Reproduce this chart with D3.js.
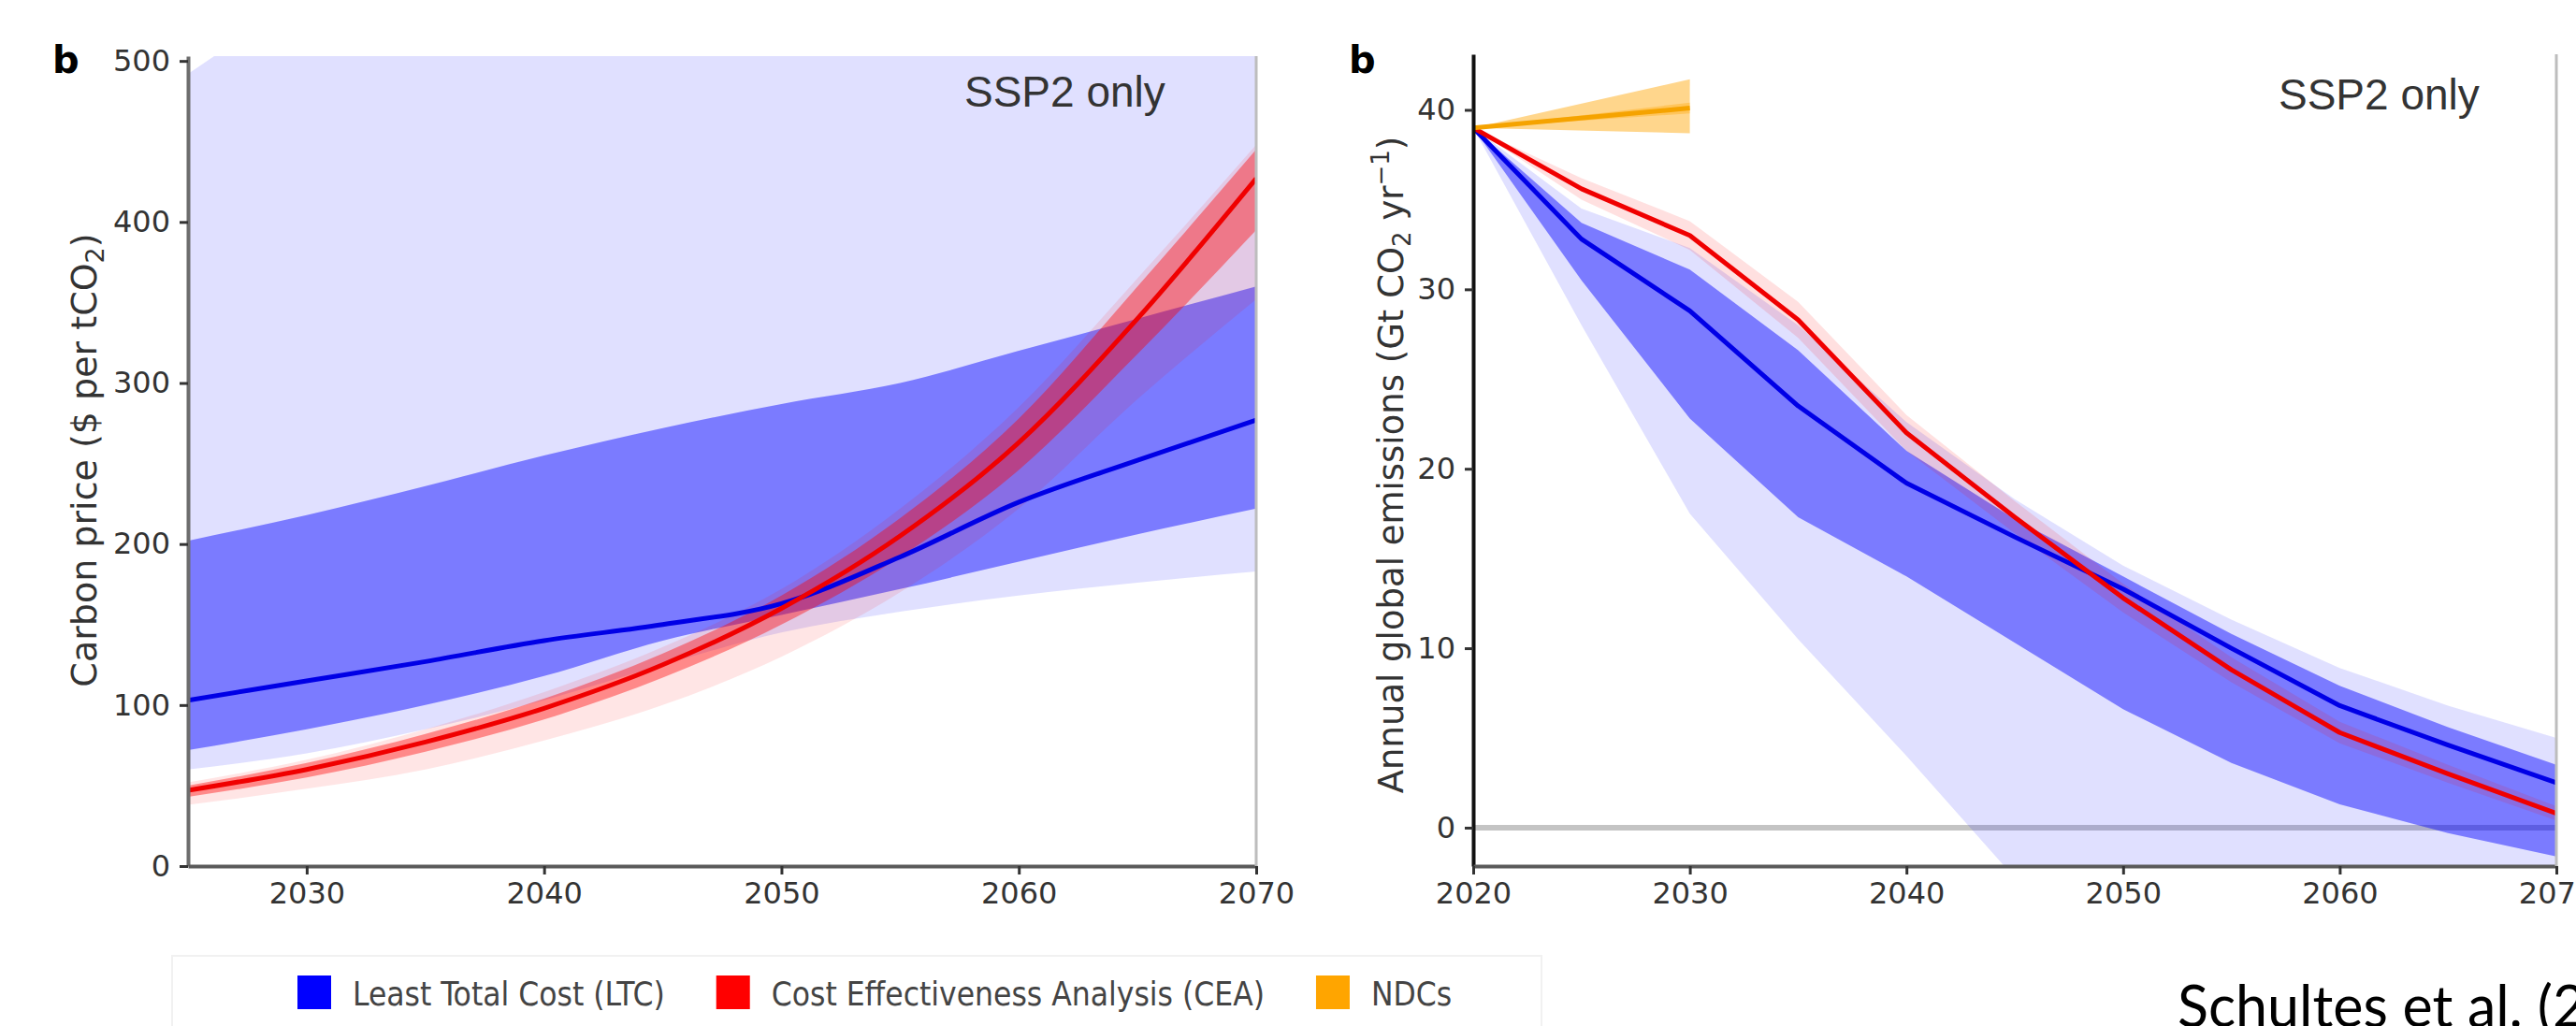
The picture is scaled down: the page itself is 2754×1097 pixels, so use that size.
<!DOCTYPE html>
<html>
<head>
<meta charset="utf-8">
<script src="https://cdn.jsdelivr.net/npm/d3@7"></script>
<style>
  body { margin: 0; background: #fff; }
  svg { display: block; }
</style>
</head>
<body>
<div id="chart"></div>
<script>
// carbon price panel
const priceYears = [2025, 2030, 2035, 2040, 2045, 2050, 2055, 2060, 2065, 2070];
const ltcPrice = [103, 115, 127, 140, 150, 163, 192, 226, 252, 277];
const ltcPriceDarkLo = [72, 85, 100, 118, 140, 156, 172, 189, 206, 222];
const ltcPriceDarkHi = [202, 218, 236, 255, 272, 287, 300, 320, 340, 360];
const ltcPriceLightLo = [60, 70, 85, 103, 125, 145, 158, 168, 176, 183];
const ltcPriceLightHi = [492, 540, 580, 620, 650, 680, 700, 720, 740, 760];
const ceaPrice = [47, 60, 77, 98, 125, 160, 205, 263, 340, 427];
const ceaPriceInLo = [43, 55, 71, 91, 117, 150, 192, 246, 318, 395];
const ceaPriceInHi = [50, 64, 82, 104, 132, 168, 216, 278, 360, 445];
const ceaPriceOutLo = [38, 48, 60, 78, 100, 130, 170, 222, 290, 352];
const ceaPriceOutHi = [52, 66, 85, 108, 136, 172, 222, 285, 365, 448];

// emissions panel
const emisYears = [2020, 2025, 2030, 2035, 2040, 2045, 2050, 2055, 2060, 2065, 2070];
const ltcEmis = [39, 32.8, 28.8, 23.5, 19.2, 16.2, 13.3, 10.0, 6.8, 4.6, 2.5];
const ltcEmisDarkLo = [39, 30.5, 22.8, 17.3, 14.0, 10.3, 6.6, 3.6, 1.3, -0.3, -1.6];
const ltcEmisDarkHi = [39, 33.7, 31.1, 26.6, 21.0, 17.2, 14.0, 10.8, 7.9, 5.6, 3.5];
const ltcEmisLightLo = [39, 28.0, 17.5, 10.5, 4.0, -2.8, -6, -8, -9, -10, -10];
const ltcEmisLightHi = [39, 34.5, 32.3, 28.0, 22.6, 18.3, 14.6, 11.6, 8.9, 6.8, 5.0];
const ceaEmis = [39, 35.6, 33.0, 28.3, 22.0, 17.3, 12.8, 8.8, 5.3, 3.0, 0.8];
const ceaEmisLo = [39, 35.0, 32.2, 27.3, 21.0, 16.4, 12.0, 8.1, 4.7, 2.5, 0.4];
const ceaEmisHi = [39, 36.2, 33.8, 29.3, 23.0, 18.2, 13.6, 9.5, 5.9, 3.5, 1.2];
const ndcYears = [2020, 2030];
const ndcEmis = [39, 40.1];
const ndcLo = [39, 38.7];
const ndcHi = [39, 41.7];
const ndcInLo = [39, 39.8];
const ndcInHi = [39, 40.4];

// ticks and labels
const priceTicksX = [2030, 2040, 2050, 2060, 2070];
const priceTicksY = [0, 100, 200, 300, 400, 500];
const emisTicksX = [2020, 2030, 2040, 2050, 2060, 2070];
const emisTicksY = [0, 10, 20, 30, 40];
const legendLabels = ["Least Total Cost (LTC)", "Cost Effectiveness Analysis (CEA)", "NDCs"];

const W = 2754, H = 1097;
const BLUE = "#0000ff", RED = "#ff0000", ORANGE = "#ffa500";
const tickFont = "'DejaVu Sans', sans-serif";

const svg = d3.select("#chart").append("svg")
    .attr("width", W)
    .attr("height", H);

function band(years, lo, hi) {
    return years.map((yr, i) => ({ year: yr, lo: lo[i], hi: hi[i] }));
}
function series(years, vals) {
    return years.map((yr, i) => ({ year: yr, v: vals[i] }));
}

function makePanel(id, x, y, curve) {
    svg.append("clipPath").attr("id", id)
        .append("rect")
        .attr("x", x.range()[0]).attr("y", y.range()[1])
        .attr("width", x.range()[1] - x.range()[0])
        .attr("height", y.range()[0] - y.range()[1]);
    const g = svg.append("g").attr("clip-path", `url(#${id})`);
    const area = d3.area().curve(curve)
        .x(d => x(d.year)).y0(d => y(d.lo)).y1(d => y(d.hi));
    const line = d3.line().curve(curve)
        .x(d => x(d.year)).y(d => y(d.v));
    return {
        g: g,
        fill(data, color, op) {
            g.append("path").datum(data).attr("d", area)
                .attr("fill", color).attr("fill-opacity", op);
        },
        stroke(data, color, w) {
            g.append("path").datum(data).attr("d", line)
                .attr("fill", "none").attr("stroke", color)
                .attr("stroke-width", w).attr("stroke-linejoin", "round");
        }
    };
}

function drawAxes(x, y, ticksX, ticksY, leftColor) {
    const yAxis = svg.append("g")
        .attr("transform", `translate(${x.range()[0]},0)`)
        .call(d3.axisLeft(y).tickValues(ticksY).tickSize(9).tickPadding(10).tickSizeOuter(0));
    const xAxis = svg.append("g")
        .attr("transform", `translate(0,${y.range()[0]})`)
        .call(d3.axisBottom(x).tickValues(ticksX).tickFormat(d3.format("d")).tickSize(9).tickPadding(8).tickSizeOuter(0));
    [yAxis, xAxis].forEach(a => {
        a.attr("font-family", tickFont).attr("font-size", 32);
        a.selectAll(".tick line").attr("stroke", "#333").attr("stroke-width", 3);
        a.selectAll(".tick text").attr("fill", "#333");
    });
    yAxis.select(".domain").attr("stroke", leftColor).attr("stroke-width", 4);
    xAxis.select(".domain").attr("stroke", "#5a5a5a").attr("stroke-width", 4);
    // light right spine
    svg.append("line")
        .attr("x1", x.range()[1]).attr("x2", x.range()[1])
        .attr("y1", y.range()[1]).attr("y2", y.range()[0])
        .attr("stroke", "#bdbdbd").attr("stroke-width", 3);
}

// ---------- left panel: carbon price ----------
const xP = d3.scaleLinear().domain([2025, 2070]).range([201, 1343]);
const yP = d3.scaleLinear().domain([0, 503]).range([926, 60]);
const pP = makePanel("clipPrice", xP, yP, d3.curveMonotoneX);
pP.fill(band(priceYears, ltcPriceLightLo, ltcPriceLightHi), BLUE, 0.12);
pP.fill(band(priceYears, ltcPriceDarkLo, ltcPriceDarkHi), BLUE, 0.45);
pP.fill(band(priceYears, ceaPriceOutLo, ceaPriceOutHi), RED, 0.1);
pP.fill(band(priceYears, ceaPriceInLo, ceaPriceInHi), RED, 0.4);
pP.stroke(series(priceYears, ltcPrice), "#0000e6", 5);
pP.stroke(series(priceYears, ceaPrice), "#f00000", 5);
drawAxes(xP, yP, priceTicksX, priceTicksY, "#6d6d6d");

// ---------- right panel: emissions ----------
const xE = d3.scaleLinear().domain([2020, 2070]).range([1575, 2733]);
const yE = d3.scaleLinear().domain([-2.14, 43.1]).range([926, 58]);
const pE = makePanel("clipEmis", xE, yE, d3.curveLinear);
pE.g.append("line")
    .attr("x1", xE(2020)).attr("x2", xE(2070))
    .attr("y1", yE(0)).attr("y2", yE(0))
    .attr("stroke", "#c4c4c4").attr("stroke-width", 6);
pE.fill(band(emisYears, ltcEmisLightLo, ltcEmisLightHi), BLUE, 0.12);
pE.fill(band(emisYears, ltcEmisDarkLo, ltcEmisDarkHi), BLUE, 0.45);
pE.fill(band(emisYears, ceaEmisLo, ceaEmisHi), RED, 0.12);
pE.fill(band(ndcYears, ndcLo, ndcHi), ORANGE, 0.45);
pE.fill(band(ndcYears, ndcInLo, ndcInHi), ORANGE, 0.35);
pE.stroke(series(emisYears, ltcEmis), "#0000e6", 5);
pE.stroke(series(emisYears, ceaEmis), "#f00000", 5);
pE.stroke(series(ndcYears, ndcEmis), "#f5a300", 5);
drawAxes(xE, yE, emisTicksX, emisTicksY, "#111");

// ---------- text ----------
function addText(x, y, txt, size, family, opts) {
    const t = svg.append("text")
        .attr("x", x).attr("y", y)
        .attr("font-size", size)
        .attr("font-family", family)
        .attr("fill", (opts && opts.fill) || "#333")
        .text(txt);
    if (opts && opts.weight) t.attr("font-weight", opts.weight);
    return t;
}
addText(56, 78, "b", 40, tickFont, { weight: "bold", fill: "#000" });
addText(1442, 78, "b", 40, tickFont, { weight: "bold", fill: "#000" });
addText(1031, 114, "SSP2 only", 46, "'Liberation Sans', Arial, sans-serif", { fill: "#333" });
addText(2436, 117, "SSP2 only", 46, "'Liberation Sans', Arial, sans-serif", { fill: "#333" });

// y labels with sub/superscripts
const yl1 = svg.append("text")
    .attr("transform", "translate(103,492) rotate(-90)")
    .attr("text-anchor", "middle")
    .attr("font-family", tickFont).attr("font-size", 38).attr("fill", "#333");
yl1.append("tspan").text("Carbon price ($ per tCO");
yl1.append("tspan").attr("font-size", 27).attr("dy", 8).text("2");
yl1.append("tspan").attr("dy", -8).text(")");

const yl2 = svg.append("text")
    .attr("transform", "translate(1500,497) rotate(-90)")
    .attr("text-anchor", "middle")
    .attr("font-family", tickFont).attr("font-size", 37).attr("fill", "#333");
yl2.append("tspan").text("Annual global emissions (Gt CO");
yl2.append("tspan").attr("font-size", 26).attr("dy", 8).text("2");
yl2.append("tspan").attr("dy", -8).text(" yr");
yl2.append("tspan").attr("font-size", 26).attr("dy", -15).text("\u22121");
yl2.append("tspan").attr("dy", 15).text(")");

// legend
svg.append("rect")
    .attr("x", 184).attr("y", 1022).attr("width", 1464).attr("height", 200)
    .attr("fill", "none").attr("stroke", "#f1f1f1").attr("stroke-width", 2);
const legColors = [BLUE, RED, ORANGE];
let lx = 318;
legendLabels.forEach((lab, i) => {
    svg.append("rect")
        .attr("x", lx).attr("y", 1043).attr("width", 36).attr("height", 36)
        .attr("fill", legColors[i]);
    const t = addText(lx + 59, 1075, lab, 35, "'DejaVu Sans Condensed', 'DejaVu Sans', sans-serif", { fill: "#444" });
    lx = lx + 59 + t.node().getComputedTextLength() + 55;
});

// source note, cut by the slide edge as in the original
addText(2328, 1098, "Schultes et al. (2", 61, "Lato, 'Open Sans', sans-serif", { fill: "#000" });
</script>
</body>
</html>
